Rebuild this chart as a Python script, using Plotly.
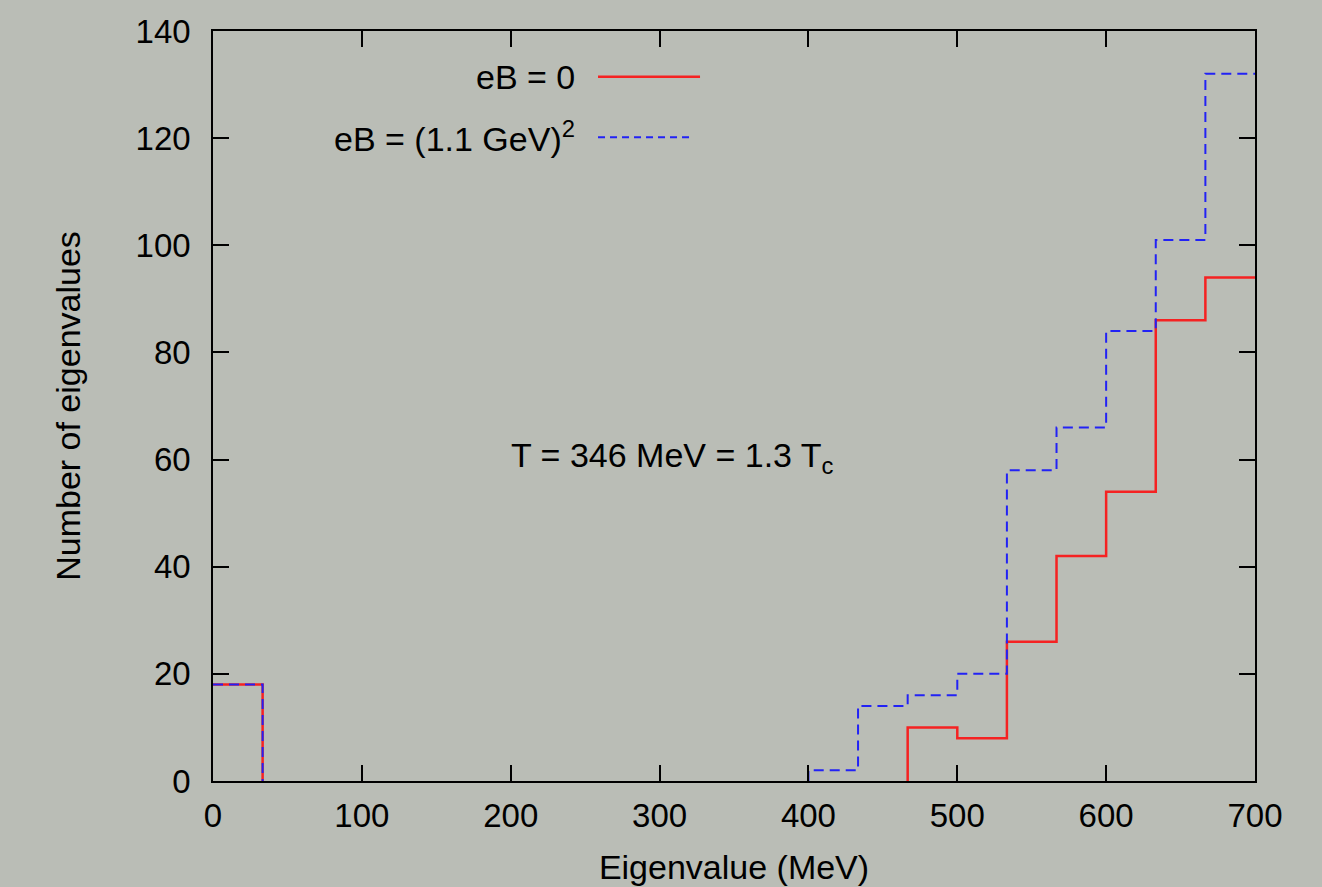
import plotly.graph_objects as go

# ---- data ----
bin_width = 700 / 21
n_bins = 21
counts_eB0 = [18, 0, 0, 0, 0, 0, 0, 0, 0, 0, 0, 0, 0, 0, 10, 8, 26, 42, 54, 86, 94]
counts_eB11 = [18, 0, 0, 0, 0, 0, 0, 0, 0, 0, 0, 0, 2, 14, 16, 20, 58, 66, 84, 101, 132]
x_ticks = [0, 100, 200, 300, 400, 500, 600, 700]
y_ticks = [0, 20, 40, 60, 80, 100, 120, 140]
label_eB0 = "eB = 0"
label_eB11 = "eB = (1.1 GeV)<sup>2</sup>"
annotation_text = "T = 346 MeV = 1.3 T<sub>c</sub>"
x_title = "Eigenvalue (MeV)"
y_title = "Number of eigenvalues"

edges = [i * bin_width for i in range(n_bins + 1)]


def step_path(counts):
    xs, ys = [], []
    prev = 0
    for i, c in enumerate(counts):
        x0, x1 = edges[i], edges[i + 1]
        if c > 0:
            if prev == 0:
                if xs:
                    xs.append(None); ys.append(None)
                if i > 0:
                    xs.append(x0); ys.append(0)
            xs += [x0, x1]
            ys += [c, c]
        else:
            if prev > 0:
                xs.append(x0); ys.append(0)
        prev = c
    return xs, ys


FONT = "Liberation Sans, Arial, sans-serif"
BG = "#babdb6"
RED = "#f52222"
BLUE = "#2222f5"
FS = 34

fig = go.Figure()
xr, yr = step_path(counts_eB0)
fig.add_trace(go.Scatter(x=xr, y=yr, mode="lines", line=dict(color=RED, width=2.5),
                         showlegend=False, hoverinfo="skip"))
xb, yb = step_path(counts_eB11)
fig.add_trace(go.Scatter(x=xb, y=yb, mode="lines",
                         line=dict(color=BLUE, width=2, dash="10px,6px"),
                         showlegend=False, hoverinfo="skip"))

axis_common = dict(
    showgrid=False, zeroline=False, showline=True, linecolor="black", linewidth=1.5,
    mirror="ticks", ticks="inside", ticklen=16, tickwidth=1.5, tickcolor="black",
    tickfont=dict(family=FONT, size=FS - 1, color="black"), automargin=False,
)

fig.update_xaxes(range=[0, 700], tickvals=x_ticks, ticktext=[str(v) for v in x_ticks],
                 title=dict(text=x_title, font=dict(family=FONT, size=FS, color="black"), standoff=22),
                 ticklabelstandoff=5, **axis_common)
fig.update_yaxes(range=[0, 140], tickvals=y_ticks, ticktext=[str(v) for v in y_ticks],
                 title=dict(text=y_title, font=dict(family=FONT, size=FS, color="black"), standoff=45),
                 ticklabelstandoff=14, **axis_common)

# legend (gnuplot style: text right-aligned, sample to the right)
fig.add_annotation(x=0.3493, y=0.9391, xref="paper", yref="paper", text=label_eB0,
                   showarrow=False, xanchor="right", yanchor="middle",
                   font=dict(family=FONT, size=FS, color="black"))
fig.add_annotation(x=0.3493, y=0.859, xref="paper", yref="paper", text=label_eB11,
                   showarrow=False, xanchor="right", yanchor="middle",
                   font=dict(family=FONT, size=FS, color="black"))
fig.add_shape(type="line", xref="paper", yref="paper", x0=0.3695, x1=0.4674, y0=0.9391, y1=0.9391,
              line=dict(color=RED, width=2.5))
fig.add_shape(type="line", xref="paper", yref="paper", x0=0.3695, x1=0.4607, y0=0.8583, y1=0.8583,
              line=dict(color=BLUE, width=2, dash="7px,5px"))

fig.add_annotation(x=199, y=60.3, xref="x", yref="y", text=annotation_text, showarrow=False,
                   xanchor="left", yanchor="middle", font=dict(family=FONT, size=FS, color="black"))

fig.update_layout(
    width=1322, height=887,
    margin=dict(l=213, r=67, t=31, b=106),
    paper_bgcolor=BG, plot_bgcolor=BG,
    showlegend=False,
)

fig.write_html("out.html", config={"displayModeBar": False},
               post_script="document.body.style.margin='0';document.body.style.background='" + BG + "';")
